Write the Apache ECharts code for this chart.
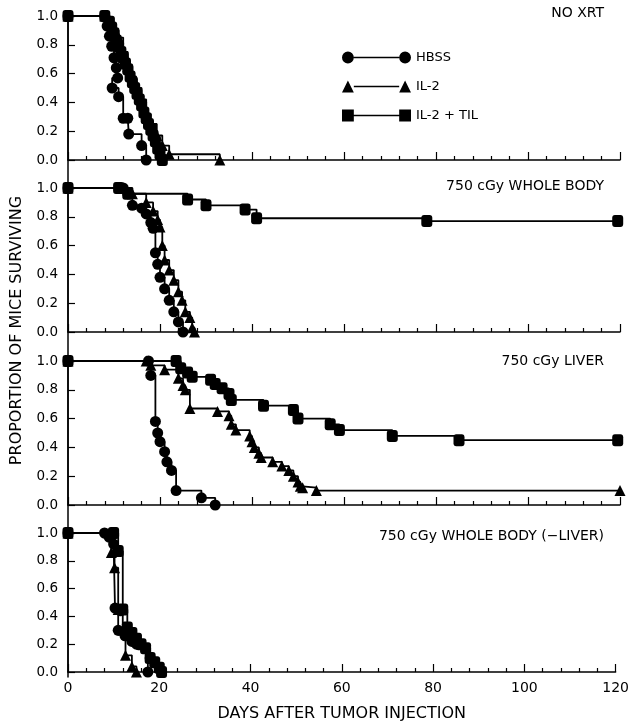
<!DOCTYPE html>
<html>
<head>
<meta charset="utf-8">
<script src="https://cdn.jsdelivr.net/npm/echarts@6/dist/echarts.min.js"></script>
<style>
html,body{margin:0;padding:0;background:#fff;}
#main{width:632px;height:723px;}
</style>
</head>
<body>
<div id="main"></div>
<script>
// ---------- DATA ----------
var groupNames = ['HBSS', 'IL-2', 'IL-2 + TIL'];
var panelTitles = ['NO XRT', '750 cGy WHOLE BODY', '750 cGy LIVER', '750 cGy WHOLE BODY (\u2212LIVER)'];
var xAxisName = 'DAYS AFTER TUMOR INJECTION';
var yAxisName = 'PROPORTION OF MICE SURVIVING';

// Panel 1: NO XRT  [day, proportion surviving]
var noXrtHbss = [[0,1],[8,1],[8.5,0.93],[9,0.86],[9.5,0.79],[10,0.71],[10.5,0.64],[10.8,0.57],[9.6,0.5],[11,0.44],[12,0.29],[13,0.29],[13.2,0.18],[16,0.1],[17,0]];
var noXrtIl2 = [[0,1],[8,1],[9,0.95],[10,0.9],[11,0.85],[12,0.75],[13,0.65],[14,0.58],[14.8,0.5],[16,0.42],[17,0.32],[18,0.25],[19.3,0.17],[20.5,0.1],[22,0.04],[33,0]];
var noXrtTil = [[0,1],[8,1],[9,0.96],[9.5,0.92],[10,0.88],[10.5,0.83],[11,0.79],[11.5,0.75],[12,0.71],[12.5,0.67],[13,0.63],[13.5,0.58],[14,0.54],[14.5,0.5],[15,0.46],[15.5,0.42],[16,0.38],[16.5,0.33],[17,0.29],[17.5,0.25],[18,0.21],[18.5,0.17],[19,0.13],[19.5,0.08],[20,0.04],[20.5,0]];

// Panel 2: 750 cGy WHOLE BODY
var wbHbss = [[0,1],[12,1],[13,0.96],[14,0.88],[16,0.86],[17,0.82],[18,0.76],[18.5,0.72],[19,0.55],[19.5,0.47],[20,0.38],[21,0.3],[22,0.22],[23,0.14],[24,0.07],[25,0]];
var wbIl2 = [[0,1],[12,1],[14,0.96],[17,0.9],[18.5,0.84],[19.5,0.78],[20,0.73],[20.5,0.6],[21,0.5],[22,0.43],[23,0.36],[24,0.28],[24.8,0.22],[25.5,0.14],[26.5,0.1],[27,0.03],[27.5,0]];
var wbTil = [[0,1],[11,1],[13,0.96],[26,0.92],[30,0.88],[38.5,0.85],[41,0.79],[78,0.77],[119.5,0.77]];

// Panel 3: 750 cGy LIVER
var livHbss = [[0,1],[17.5,1],[18,0.9],[19,0.58],[19.5,0.5],[20,0.44],[21,0.37],[21.5,0.3],[22.5,0.24],[23.5,0.1],[29,0.05],[32,0]];
var livIl2 = [[0,1],[17,1],[18,0.97],[21,0.94],[24,0.88],[25,0.83],[25.5,0.8],[26.5,0.67],[32.5,0.65],[35,0.62],[35.5,0.56],[36.5,0.52],[39.5,0.48],[40,0.44],[40.5,0.4],[41.5,0.36],[42,0.33],[44.5,0.3],[46.5,0.27],[48,0.24],[49,0.2],[50,0.16],[50.5,0.13],[51,0.12],[54,0.1],[120,0.1]];
var livTil = [[0,1],[23.5,1],[24.5,0.95],[26,0.92],[27,0.89],[31,0.87],[32,0.84],[33.5,0.81],[35,0.77],[35.5,0.73],[42.5,0.69],[49,0.66],[50,0.6],[57,0.56],[59,0.52],[70.5,0.48],[85,0.45],[119.5,0.45]];

// Panel 4: 750 cGy WHOLE BODY (-LIVER)
var wblHbss = [[0,1],[8,1],[9,0.97],[10,0.92],[10.3,0.46],[11.5,0.44],[11,0.3],[12.5,0.26],[14,0.22],[15,0.2],[17,0.17],[18,0.1],[17.5,0]];
var wblIl2 = [[0,1],[9,1],[9.5,0.86],[10.2,0.75],[11,0.45],[12,0.3],[12.6,0.12],[14,0.04],[15,0]];
var wblTil = [[0,1],[10,1],[11,0.87],[12,0.45],[13,0.32],[14,0.28],[15,0.24],[16,0.2],[17,0.17],[18,0.1],[19,0.07],[20,0.03],[20.5,0]];

var panelData = [
  [noXrtHbss, noXrtIl2, noXrtTil],
  [wbHbss, wbIl2, wbTil],
  [livHbss, livIl2, livTil],
  [wblHbss, wblIl2, wblTil]
];

// ---------- STYLE ----------
var FONT = "'DejaVu Sans', 'Liberation Sans', Arial, sans-serif";
var INK = '#000';
var symbols = ['circle', 'triangle', 'roundRect'];
var symbolSizes = [11, 11, [11, 12]];
var legendIcons = [
  'path://M0,6 A6,6 0 1,1 12,6 A6,6 0 1,1 0,6 Z M12,5.2 L58,5.2 L58,6.8 L12,6.8 Z M58,6 A6,6 0 1,1 70,6 A6,6 0 1,1 58,6 Z',
  'path://M0,12 L6,0 L12,12 Z M12,5.2 L58,5.2 L58,6.8 L12,6.8 Z M58,12 L64,0 L70,12 Z',
  'path://M0,0 L12,0 L12,12 L0,12 Z M12,5.2 L58,5.2 L58,6.8 L12,6.8 Z M58,0 L70,0 L70,12 L58,12 Z'
];
var gridTops = [16, 188, 361, 533];
var titleCenters = [14, 187, 362, 537];
var gridH = 144;

var grids = [], xAxes = [], yAxes = [], series = [], titles = [];
gridTops.forEach(function (t, i) {
  grids.push({left: 68, right: 12, top: t, height: gridH, containLabel: false});
  var last = (i === gridTops.length - 1);
  xAxes.push({
    type: 'value', gridIndex: i, min: 0, max: 120, interval: 20,
    axisLine: {show: true, onZero: false, lineStyle: {color: INK, width: 1.5}},
    axisTick: {show: true, inside: true, length: 8, lineStyle: {color: INK, width: 1.2}},
    minorTick: {show: true, splitNumber: 5, length: 4, lineStyle: {color: INK, width: 1.2}},
    splitLine: {show: false},
    axisLabel: {show: last, color: INK, fontSize: 14, fontFamily: FONT, margin: 9},
    name: last ? xAxisName : '', nameLocation: 'middle', nameGap: 34,
    nameTextStyle: {color: INK, fontSize: 16, fontFamily: FONT}
  });
  yAxes.push({
    type: 'value', gridIndex: i, min: 0, max: 1, interval: 0.2,
    axisLine: {show: true, lineStyle: {color: INK, width: 1.5}},
    axisTick: {show: true, inside: true, length: 7, lineStyle: {color: INK, width: 1.2}},
    splitLine: {show: false},
    axisLabel: {color: INK, fontSize: 13.5, fontFamily: FONT, margin: 10,
      formatter: function (v) { return v.toFixed(1); }}
  });
  titles.push({
    text: panelTitles[i], right: 28, top: titleCenters[i] - 8, padding: 0,
    textStyle: {color: INK, fontSize: 14, fontWeight: 'normal', fontFamily: FONT}
  });
  panelData[i].forEach(function (d, k) {
    series.push({
      type: 'line', name: groupNames[k], xAxisIndex: i, yAxisIndex: i,
      data: d, step: 'end', symbol: symbols[k], symbolSize: symbolSizes[k],
      showAllSymbol: true, animation: false,
      lineStyle: {color: INK, width: 1.8}, itemStyle: {color: INK},
      emphasis: {disabled: true}
    });
  });
});

// continuous left axis spanning all panels (carries the y-axis name)
grids.push({left: 68, right: 12, top: 16, height: 661});
xAxes.push({type: 'value', gridIndex: 4, min: 0, max: 120, show: false});
yAxes.push({
  type: 'value', gridIndex: 4, min: 0, max: 1,
  axisLine: {show: true, lineStyle: {color: INK, width: 1.5}},
  axisTick: {show: false}, axisLabel: {show: false}, splitLine: {show: false},
  name: yAxisName, nameLocation: 'middle', nameGap: 43,
  nameTextStyle: {color: INK, fontSize: 16, fontFamily: FONT, padding: [0, 0, 0, 32]}
});

var chart = echarts.init(document.getElementById('main'), null, {renderer: 'canvas'});
chart.setOption({
  backgroundColor: '#fff',
  animation: false,
  title: titles,
  legend: {
    orient: 'vertical', left: 337, top: 46, itemWidth: 69, itemHeight: 12, itemGap: 16,
    textStyle: {color: INK, fontSize: 13, fontFamily: FONT},
    data: groupNames.map(function (n, k) { return {name: n, icon: legendIcons[k]}; })
  },
  grid: grids,
  xAxis: xAxes,
  yAxis: yAxes,
  series: series
});
</script>
</body>
</html>
